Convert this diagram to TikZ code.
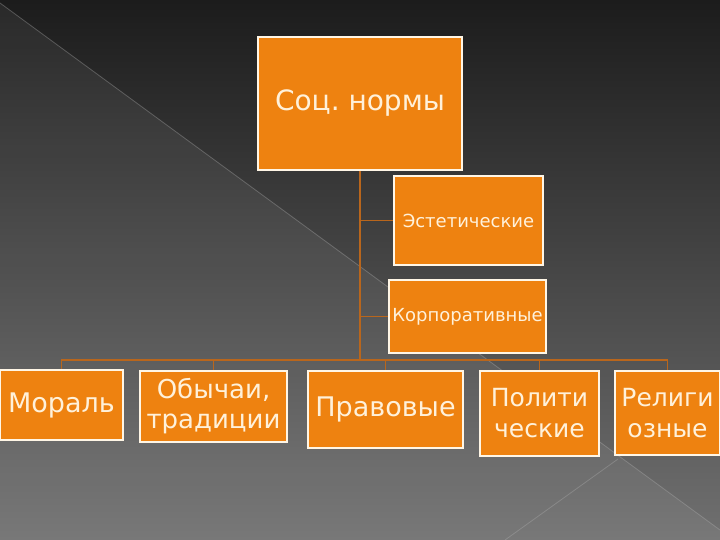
\documentclass[tikz,border=0pt]{standalone}
\usepackage{fontspec}
\setmainfont{DejaVu Sans}
\frenchspacing
\usetikzlibrary{positioning}

\definecolor{bgtop}{HTML}{1C1C1C}
\definecolor{bgbot}{HTML}{707070}
\definecolor{boxfill}{HTML}{EE8210}
\definecolor{boxline}{HTML}{FFF6E6}
\definecolor{boxtext}{HTML}{FFF1DA}
\definecolor{linkcol}{HTML}{B9661C}

\tikzset{
	normbox/.style={draw=boxline, line width=1.8pt, fill=boxfill, text=boxtext,
		inner sep=0pt, align=center},
	link/.style={draw=linkcol, line width=1.4pt},
}

\begin{document}
\begin{tikzpicture}[x=1pt, y=-1pt]
	% Background
	\useasboundingbox (0,0) rectangle (720,540);
	\shade[top color=bgtop, bottom color=bgbot] (0,0) rectangle (720,540);
	\fill[white, opacity=0.06] (0,3) -- (720,530) -- (720,540) -- (0,540) -- cycle;
	\draw[gray!60, opacity=0.35, line width=0.8pt] (0,3) -- (720,530);
	\draw[gray!60, opacity=0.35, line width=0.8pt] (505,540) -- (618,459);
	
	% Root
	\node[normbox, minimum width=204pt, minimum height=133pt, font=\fontsize{28}{32}\selectfont]
		(root) at (360,103.5) {Соц. нормы};
	
	% Side branches
	\node[normbox, minimum width=149pt, minimum height=89pt, font=\fontsize{18}{21}\selectfont]
		(est) at (468.5,220.5) {Эстетические};
	\node[normbox, minimum width=157pt, minimum height=73pt, font=\fontsize{18}{21}\selectfont]
		(corp) at (467.5,316.5) {Корпоративные};
	
	% Bottom level
	\node[normbox, minimum width=123pt, minimum height=70pt, font=\fontsize{27}{31}\selectfont]
		(moral) at (61.5,405) {Мораль};
	\node[normbox, minimum width=147pt, minimum height=71pt, font=\fontsize{26}{30}\selectfont]
		(custom) at (213.5,406.5) {Обычаи,\\традиции};
	\node[normbox, minimum width=155pt, minimum height=77pt, font=\fontsize{27}{31}\selectfont]
		(law) at (385.5,409.5) {Правовые};
	\node[normbox, minimum width=119pt, minimum height=85pt, font=\fontsize{25}{31}\selectfont]
		(polit) at (539.5,413.5) {Полити\\ческие};
	\node[normbox, minimum width=105pt, minimum height=84pt, font=\fontsize{25}{31}\selectfont]
		(relig) at (667.5,413) {Религи\\озные};
	
	% Edges
	\coordinate (bus) at (360,360);
	\draw[link] (root) -- (bus);
	\draw[link] (root.south |- est.west) -- (est.west);
	\draw[link] (root.south |- corp.west) -- (corp.west);
	\foreach \n in {moral, custom, law, polit, relig}
		\draw[link] (bus) -| (\n.north);
\end{tikzpicture}
\end{document}
